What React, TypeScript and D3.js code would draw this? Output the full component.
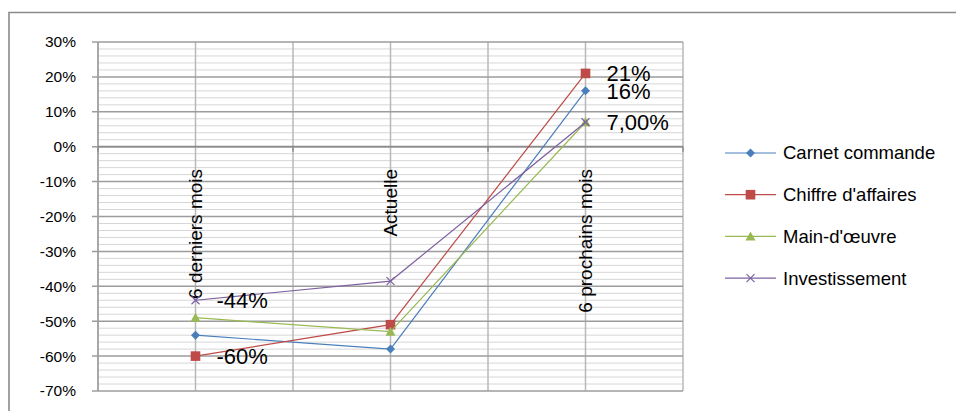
import React from "react";
import * as d3 from "d3";

const categories = ["6 derniers mois", "Actuelle", "6 prochains mois"];
const seriesNames = ["Carnet commande", "Chiffre d'affaires", "Main-d'œuvre", "Investissement"];
const carnet = [-0.54, -0.58, 0.16];
const chiffre = [-0.6, -0.51, 0.21];
const mainOeuvre = [-0.49, -0.53, 0.07];
const invest = [-0.44, -0.385, 0.07];
const seriesColors = ["#4a7ebb", "#be4b48", "#98b954", "#7d60a0"];
const seriesMarkers = ["diamond", "square", "triangle", "cross"];
const yTicks = [0.3, 0.2, 0.1, 0, -0.1, -0.2, -0.3, -0.4, -0.5, -0.6, -0.7];
// data labels: [seriesIndex, categoryIndex, text]
const dataLabels: [number, number, string][] = [
  [3, 0, "-44%"],
  [1, 0, "-60%"],
  [1, 2, "21%"],
  [0, 2, "16%"],
  [3, 2, "7,00%"],
];

const W = 956;
const H = 411;
const FONT = "'Liberation Sans', Arial, sans-serif";

function Marker({ type, x, y, color }: { type: string; x: number; y: number; color: string }) {
  if (type === "diamond") {
    const r = 4.5;
    return <path d={`M${x},${y - r}L${x + r},${y}L${x},${y + r}L${x - r},${y}Z`} fill={color} />;
  }
  if (type === "square") {
    const r = 4.8;
    return <rect x={x - r} y={y - r} width={2 * r} height={2 * r} fill={color} />;
  }
  if (type === "triangle") {
    const r = 5;
    return <path d={`M${x},${y - r}L${x + r},${y + r * 0.8}L${x - r},${y + r * 0.8}Z`} fill={color} />;
  }
  const r = 4;
  return (
    <path
      d={`M${x - r},${y - r}L${x + r},${y + r}M${x - r},${y + r}L${x + r},${y - r}`}
      stroke={color}
      strokeWidth={1.2}
      fill="none"
    />
  );
}

export default function App() {
  const series = [carnet, chiffre, mainOeuvre, invest];
  const x = d3.scalePoint<string>().domain(categories).range([98, 683]).padding(0.5);
  const y = d3.scaleLinear().domain([-0.7, 0.3]).range([391, 42]);
  const step = x.step();
  const minorTicks = d3.range(-70, 31, 2).map((v) => v / 100).filter((v) => Math.round(v * 100) % 10 !== 0);
  const vLines: number[] = [];
  categories.forEach((c, i) => {
    const cx = x(c)!;
    if (i === 0) vLines.push(cx - step / 2);
    vLines.push(cx);
    vLines.push(cx + step / 2);
  });
  const boundaries = [x(categories[0])! - step / 2, ...categories.map((c) => x(c)! + step / 2)];
  const line = d3
    .line<number>()
    .x((_, i) => x(categories[i])!)
    .y((d) => y(d));
  const fmt = (v: number) => `${Math.round(v * 100)}%`;

  return (
    <svg width={W} height={H} style={{ position: "absolute", left: 0, top: 0, background: "#fff" }} fontFamily={FONT}>
      {/* chart frame */}
      <path d={`M9,${H + 5}L9,12.5L${W + 5},12.5`} stroke="#8a8a8a" strokeWidth={1.6} fill="none" />

      {/* minor gridlines */}
      {minorTicks.map((t) => (
        <line key={"m" + t} x1={98} x2={683} y1={y(t)} y2={y(t)} stroke="#d6d6d6" strokeWidth={1} />
      ))}
      {/* vertical gridlines */}
      {vLines.map((vx, i) => (
        <line key={"v" + i} x1={vx} x2={vx} y1={y(0.3)} y2={y(-0.7)} stroke="#b8b8b8" strokeWidth={1.5} />
      ))}
      {/* major gridlines */}
      {yTicks.map((t) => (
        <line key={"M" + t} x1={92} x2={683} y1={y(t)} y2={y(t)} stroke="#9c9c9c" strokeWidth={1.5} />
      ))}
      {/* y axis */}
      <line x1={98} x2={98} y1={y(0.3)} y2={y(-0.7)} stroke="#9c9c9c" strokeWidth={1.5} />
      {/* x axis at 0 */}
      <line x1={98} x2={683} y1={y(0)} y2={y(0)} stroke="#8c8c8c" strokeWidth={1.8} />
      {boundaries.map((bx, i) => (
        <line key={"t" + i} x1={bx} x2={bx} y1={y(0)} y2={y(0) + 5} stroke="#8c8c8c" strokeWidth={1.5} />
      ))}

      {/* y tick labels */}
      {yTicks.map((t) => (
        <text key={"yl" + t} x={76} y={y(t)} dy="0.35em" textAnchor="end" fontSize={15.5} fill="#000">
          {fmt(t)}
        </text>
      ))}

      {/* category labels */}
      {categories.map((c) => (
        <text
          key={c}
          transform={`translate(${x(c)},169) rotate(-90)`}
          dy="0.35em"
          textAnchor="end"
          fontSize={19}
          fill="#000"
        >
          {c}
        </text>
      ))}

      {/* series */}
      {series.map((s, si) => (
        <g key={seriesNames[si]}>
          <path d={line(s)!} fill="none" stroke={seriesColors[si]} strokeWidth={1.2} />
          {s.map((v, i) => (
            <Marker key={i} type={seriesMarkers[si]} x={x(categories[i])!} y={y(v)} color={seriesColors[si]} />
          ))}
        </g>
      ))}

      {/* data labels */}
      {dataLabels.map(([si, ci, txt]) => (
        <text
          key={si + "-" + ci}
          x={x(categories[ci])! + 21}
          y={y(series[si][ci])}
          dy="0.35em"
          fontSize={22}
          fill="#000"
        >
          {txt}
        </text>
      ))}

      {/* legend */}
      {seriesNames.map((n, i) => {
        const ly = 153 + i * 41.7;
        return (
          <g key={"lg" + n}>
            <line x1={725} x2={776} y1={ly} y2={ly} stroke={seriesColors[i]} strokeWidth={1.2} />
            <Marker type={seriesMarkers[i]} x={750.5} y={ly} color={seriesColors[i]} />
            <text x={783} y={ly} dy="0.35em" fontSize={18.5} fill="#000">
              {n}
            </text>
          </g>
        );
      })}
    </svg>
  );
}
